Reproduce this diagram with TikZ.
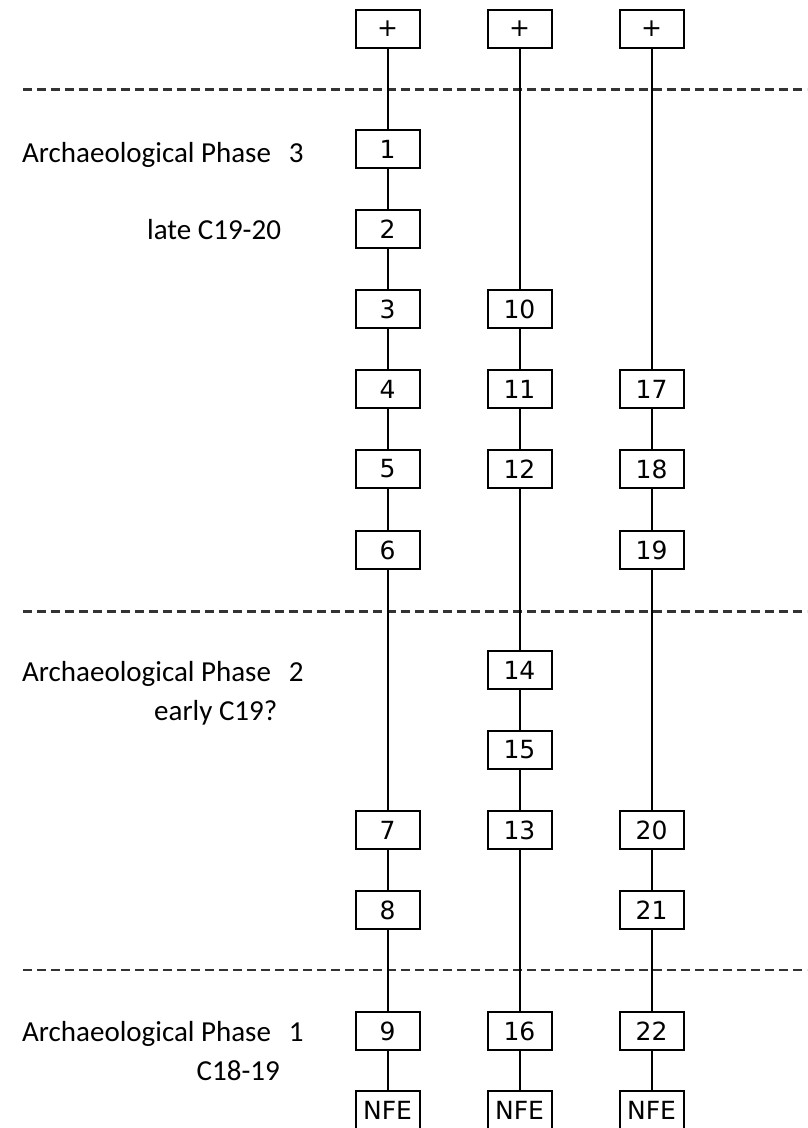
\documentclass[tikz,border=0pt]{standalone}
\usepackage{fontspec}
\setmainfont{DejaVu Sans}
\newfontfamily\labfont{Carlito}
\begin{document}
\begin{tikzpicture}[x=1pt,y=-1pt,
  ctx/.style={draw, line width=2pt, fill=white, minimum width=64pt, minimum height=38pt, inner sep=0pt, font=\fontsize{25}{29}\selectfont},
  link/.style={line width=2pt},
  phaseline/.style={line width=2.2pt, black!80, dash pattern=on 9pt off 5pt},
  lab/.style={inner sep=0pt, font=\labfont\fontsize{29}{33}\selectfont}]
\useasboundingbox (0,0) rectangle (807,1128);

% phase separators
\coordinate (d1a) at (23,89.5);  \coordinate (d1b) at (807,89.5);
\coordinate (d2a) at (23,611.5); \coordinate (d2b) at (807,611.5);
\coordinate (d3a) at (23,970);   \coordinate (d3b) at (807,970);
\draw[phaseline] (d1a) -- (d1b);
\draw[phaseline] (d2a) -- (d2b);
\draw[phaseline] (d3a) -- (d3b);

% labels
\node[lab, anchor=base west] (l3) at (22,162) {Archaeological Phase\hspace{18pt}3};
\node[lab, anchor=base west] (l3b) at (147,239) {late C19-20};
\node[lab, anchor=base west] (l2) at (22,681) {Archaeological Phase\hspace{18pt}2};
\node[lab, anchor=base east] (l2b) at (277.5,720) {early C19?};
\node[lab, anchor=base west] (l1) at (22,1041) {Archaeological Phase\hspace{18pt}1};
\node[lab, anchor=base east] (l1b) at (280,1080) {C18-19};

% column 1
\node[ctx] (a0) at (387.5,29) {+};
\node[ctx] (a1) at (387.5,149) {1};
\node[ctx] (a2) at (387.5,229) {2};
\node[ctx] (a3) at (387.5,309) {3};
\node[ctx] (a4) at (387.5,389) {4};
\node[ctx] (a5) at (387.5,469) {5};
\node[ctx] (a6) at (387.5,550) {6};
\node[ctx] (a7) at (387.5,830) {7};
\node[ctx] (a8) at (387.5,910) {8};
\node[ctx] (a9) at (387.5,1031) {9};
\node[ctx] (aN) at (387.5,1110) {NFE};

% column 2
\node[ctx] (b0) at (519.5,29) {+};
\node[ctx] (b10) at (519.5,309) {10};
\node[ctx] (b11) at (519.5,389) {11};
\node[ctx] (b12) at (519.5,469) {12};
\node[ctx] (b14) at (519.5,670) {14};
\node[ctx] (b15) at (519.5,750) {15};
\node[ctx] (b13) at (519.5,830) {13};
\node[ctx] (b16) at (519.5,1031) {16};
\node[ctx] (bN) at (519.5,1110) {NFE};

% column 3
\node[ctx] (c0) at (651.5,29) {+};
\node[ctx] (c17) at (651.5,389) {17};
\node[ctx] (c18) at (651.5,469) {18};
\node[ctx] (c19) at (651.5,550) {19};
\node[ctx] (c20) at (651.5,830) {20};
\node[ctx] (c21) at (651.5,910) {21};
\node[ctx] (c22) at (651.5,1031) {22};
\node[ctx] (cN) at (651.5,1110) {NFE};

% connectors
\foreach \u/\v in {a0/a1,a1/a2,a2/a3,a3/a4,a4/a5,a5/a6,a6/a7,a7/a8,a8/a9,a9/aN,
                   b0/b10,b10/b11,b11/b12,b12/b14,b14/b15,b15/b13,b13/b16,b16/bN,
                   c0/c17,c17/c18,c18/c19,c19/c20,c20/c21,c21/c22,c22/cN}
  \draw[link] (\u.south) -- (\v.north);
\end{tikzpicture}
\end{document}
